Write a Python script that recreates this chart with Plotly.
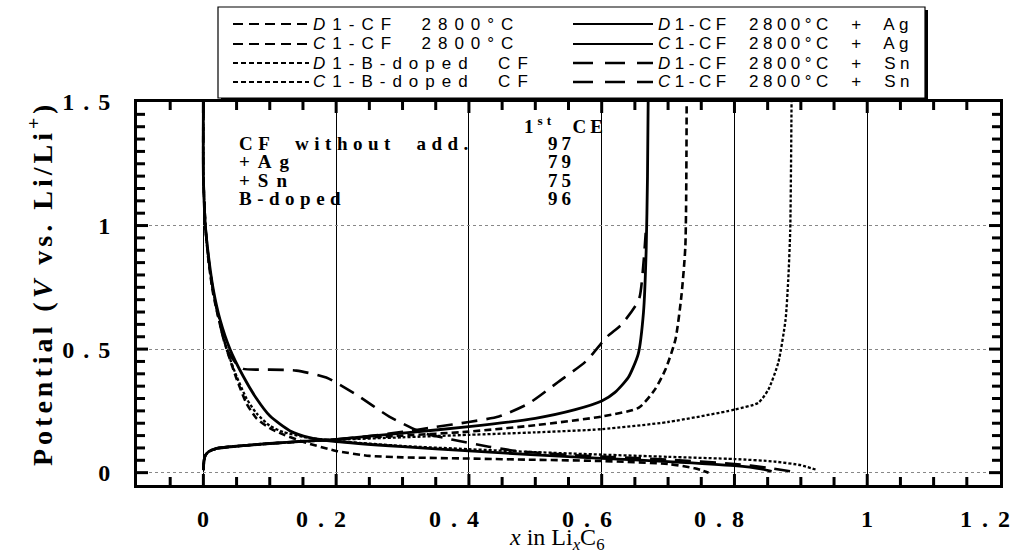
import plotly.graph_objects as go

# ---------------- data ----------------
# Discharge (D1) curves: x in LixC6, potential (V)
cf_d_x = [0, 0, 0.003, 0.008, 0.015, 0.025, 0.035, 0.05, 0.065, 0.08, 0.1, 0.12, 0.15, 0.2, 0.25, 0.3, 0.4, 0.5, 0.6, 0.7, 0.74, 0.761]
cf_d_v = [1.5, 1.2, 1.0, 0.85, 0.72, 0.6, 0.5, 0.38, 0.28, 0.22, 0.18, 0.155, 0.125, 0.088, 0.068, 0.062, 0.057, 0.052, 0.047, 0.035, 0.018, 0.0]

b_d_x = [0, 0, 0.003, 0.008, 0.015, 0.025, 0.035, 0.05, 0.065, 0.08, 0.1, 0.12, 0.15, 0.2, 0.3, 0.4, 0.5, 0.6, 0.7, 0.8, 0.86, 0.9, 0.923]
b_d_v = [1.5, 1.2, 1.0, 0.86, 0.73, 0.61, 0.5, 0.39, 0.3, 0.24, 0.19, 0.165, 0.145, 0.128, 0.108, 0.095, 0.083, 0.073, 0.064, 0.055, 0.045, 0.03, 0.012]

ag_d_x = [0, 0, 0.003, 0.008, 0.015, 0.025, 0.04, 0.06, 0.08, 0.1, 0.13, 0.16, 0.2, 0.3, 0.4, 0.5, 0.6, 0.7, 0.8, 0.84, 0.856]
ag_d_v = [1.5, 1.2, 1.0, 0.87, 0.74, 0.62, 0.5, 0.39, 0.3, 0.23, 0.17, 0.142, 0.126, 0.105, 0.088, 0.072, 0.058, 0.045, 0.028, 0.015, 0.005]

sn_d_x = [0, 0, 0.003, 0.008, 0.015, 0.025, 0.035, 0.05, 0.06, 0.1, 0.14, 0.185, 0.23, 0.28, 0.33, 0.374, 0.43, 0.47, 0.55, 0.6, 0.7, 0.8, 0.85, 0.896]
sn_d_v = [1.5, 1.2, 1.0, 0.86, 0.73, 0.6, 0.5, 0.44, 0.42, 0.417, 0.413, 0.385, 0.316, 0.227, 0.162, 0.134, 0.105, 0.088, 0.072, 0.065, 0.053, 0.035, 0.02, 0.0]

# Charge (C1) curves
cf_c_x = [0, 0.001, 0.003, 0.008, 0.02, 0.05, 0.1, 0.15, 0.2, 0.3, 0.4, 0.5, 0.6, 0.656, 0.68, 0.696, 0.711, 0.72, 0.726, 0.728]
cf_c_v = [0.01, 0.05, 0.07, 0.085, 0.098, 0.107, 0.118, 0.126, 0.134, 0.15, 0.166, 0.192, 0.227, 0.263, 0.336, 0.417, 0.538, 0.713, 0.915, 1.5]

b_c_x = [0, 0.001, 0.003, 0.008, 0.02, 0.05, 0.1, 0.15, 0.2, 0.3, 0.4, 0.5, 0.6, 0.7, 0.8, 0.836, 0.851, 0.866, 0.877, 0.881, 0.884, 0.886]
b_c_v = [0.01, 0.05, 0.07, 0.085, 0.098, 0.107, 0.118, 0.126, 0.133, 0.143, 0.153, 0.163, 0.176, 0.205, 0.255, 0.283, 0.336, 0.445, 0.62, 0.78, 0.98, 1.5]

ag_c_x = [0, 0.001, 0.003, 0.008, 0.02, 0.05, 0.1, 0.15, 0.2, 0.3, 0.4, 0.5, 0.56, 0.6, 0.62, 0.64, 0.655, 0.663, 0.667, 0.669, 0.67]
ag_c_v = [0.01, 0.05, 0.07, 0.085, 0.098, 0.107, 0.118, 0.127, 0.135, 0.16, 0.186, 0.22, 0.255, 0.29, 0.325, 0.385, 0.48, 0.65, 0.9, 1.2, 1.5]

sn_c_x = [0, 0.001, 0.003, 0.008, 0.02, 0.05, 0.1, 0.15, 0.2, 0.25, 0.3, 0.35, 0.4, 0.445, 0.49, 0.535, 0.576, 0.608, 0.63, 0.656, 0.663, 0.667]
sn_c_v = [0.01, 0.05, 0.07, 0.085, 0.098, 0.107, 0.118, 0.127, 0.135, 0.148, 0.165, 0.185, 0.205, 0.227, 0.28, 0.368, 0.45, 0.55, 0.6, 0.7, 0.85, 1.0]

# Legend labels
legend_col1 = ["<i>D</i>1-CF  2800°C", "<i>C</i>1-CF  2800°C",
               "<i>D</i>1-B-doped  CF", "<i>C</i>1-B-doped  CF"]
legend_col2 = ["<i>D</i>1-CF  2800°C  +  Ag", "<i>C</i>1-CF  2800°C  +  Ag",
               "<i>D</i>1-CF  2800°C  +  Sn", "<i>C</i>1-CF  2800°C  +  Sn"]

# Coulombic efficiency table
ce_labels = ["CF  without  add.", "+Ag", "+Sn", "B-doped"]
ce_values = [97, 79, 75, 96]

x_ticks = [0, 0.2, 0.4, 0.6, 0.8, 1, 1.2]
x_tick_text = ["0", "0.2", "0.4", "0.6", "0.8", "1", "1.2"]
y_ticks = [0, 0.5, 1, 1.5]
y_tick_text = ["0", "0.5", "1", "1.5"]
x_minor = [round(-0.1 + 0.05 * i, 2) for i in range(1, 26)]
y_minor = [round(0.05 * i, 2) for i in range(0, 30)]

# ---------------- styling ----------------
W, H = 1015, 553
ML, MR, MT, MB = 137, 15, 102, 68
PW, PH = W - ML - MR, H - MT - MB
X_RANGE = [-0.1, 1.2]
Y_RANGE = [-0.05, 1.5]

def px_x(px):
    return (px - ML) / PW

def px_y(py):
    return (H - MB - py) / PH

def sp(text, ls):
    return f'<span style="letter-spacing:{ls}px">{text}</span>'

def spaced(t, ls):
    # letter spacing between glyphs only (no trailing space after the last glyph)
    return t if len(t) == 1 else sp(t[:-1], ls) + t[-1]

STY = {
    "cf": dict(color="black", width=2.6, dash="7px,4px"),
    "b": dict(color="black", width=2.3, dash="3px,2px"),
    "ag": dict(color="black", width=2.8, dash="solid"),
    "sn": dict(color="black", width=2.6, dash="16px,9px"),
}
LEG_STY = {
    "cf": dict(color="black", width=2, dash="10px,6px"),
    "b": dict(color="black", width=2, dash="5px,3px"),
    "ag": dict(color="black", width=2, dash="solid"),
    "sn": dict(color="black", width=2.4, dash="20px,12px"),
}

fig = go.Figure()
series = [
    (cf_d_x, cf_d_v, "cf"), (cf_c_x, cf_c_v, "cf"),
    (b_d_x, b_d_v, "b"), (b_c_x, b_c_v, "b"),
    (sn_d_x, sn_d_v, "sn"), (sn_c_x, sn_c_v, "sn"),
    (ag_d_x, ag_d_v, "ag"), (ag_c_x, ag_c_v, "ag"),
]
for xs, vs, k in series:
    fig.add_trace(go.Scatter(x=xs, y=vs, mode="lines", line=dict(**STY[k], shape="spline", smoothing=0.6),
                             showlegend=False, hoverinfo="skip"))

# inside tick marks on all four sides (drawn from the tick arrays)
ux = (X_RANGE[1] - X_RANGE[0]) / PW   # data units per pixel
uy = (Y_RANGE[1] - Y_RANGE[0]) / PH
tx, ty = [], []
for v in x_minor:
    ln = 11 if v in x_ticks else 8
    tx += [v, v, None, v, v, None]
    ty += [Y_RANGE[0], Y_RANGE[0] + ln * uy, None, Y_RANGE[1], Y_RANGE[1] - ln * uy, None]
for v in y_minor:
    ln = 11 if v in y_ticks else 8
    tx += [X_RANGE[0], X_RANGE[0] + ln * ux, None, X_RANGE[1], X_RANGE[1] - ln * ux, None]
    ty += [v, v, None, v, v, None]
fig.add_trace(go.Scatter(x=tx, y=ty, mode="lines", line=dict(color="black", width=3),
                         showlegend=False, hoverinfo="skip", cliponaxis=False))

serif = "Liberation Serif"
tick_font = dict(family=serif, size=24, color="black", weight="bold")

fig.update_layout(
    width=W, height=H, margin=dict(l=ML, r=MR, t=MT, b=MB, autoexpand=False),
    paper_bgcolor="white", plot_bgcolor="white", showlegend=False,
    xaxis=dict(range=X_RANGE, tickmode="array", tickvals=x_ticks, showticklabels=False,
               ticks="", showline=True, linewidth=3, linecolor="black", mirror=True,
               showgrid=True, gridcolor="black", gridwidth=1, zeroline=False),
    yaxis=dict(range=Y_RANGE, tickmode="array", tickvals=y_ticks,
               ticktext=[spaced(t, 9) for t in y_tick_text],
               ticks="", showline=True, linewidth=3, linecolor="black", mirror=True,
               showgrid=True, gridcolor="#888", gridwidth=1, griddash="dot", zeroline=False,
               tickfont=tick_font, ticklabelstandoff=19),
)

ann = []
shapes = []

# x tick labels (decimal labels sit left of their tick as in the original)
for v, t in zip(x_ticks, x_tick_text):
    if len(t) == 1:
        ann.append(dict(x=v, y=px_y(519), xref="x", yref="paper", xanchor="center", yanchor="middle",
                        showarrow=False, text=t, font=tick_font))
    else:
        ann.append(dict(x=v, y=px_y(519), xref="x", yref="paper", xanchor="right", yanchor="middle",
                        xshift=12, showarrow=False, text=spaced(t, 10), font=tick_font))

# axis titles
ann.append(dict(x=px_x(40), y=px_y(284), xref="paper", yref="paper", textangle=-90, showarrow=False,
                xanchor="center", yanchor="middle",
                text=sp("Potential (<i>V</i> vs. Li/Li<sup>+</sup>)", 4),
                font=dict(family=serif, size=28, color="black", weight="bold")))
ann.append(dict(x=px_x(557), y=px_y(539), xref="paper", yref="paper", showarrow=False,
                xanchor="center", yanchor="middle",
                text="<i>x</i> in Li<sub><i>x</i></sub>C<sub>6</sub>",
                font=dict(family=serif, size=24, color="black")))

# CE table
tfont = dict(family=serif, size=19, color="black", weight="bold")
ann.append(dict(x=px_x(565), y=px_y(125), xref="paper", yref="paper", showarrow=False,
                xanchor="center", yanchor="middle",
                text=sp("1<sup>st</sup>  CE", 4), font=tfont))
rows_py = [143, 161, 180, 198]
for lab, val, py in zip(ce_labels, ce_values, rows_py):
    ann.append(dict(x=px_x(237), y=px_y(py), xref="paper", yref="paper", showarrow=False,
                    xanchor="left", yanchor="middle",
                    text=sp(lab, 5.5 if lab not in ("+Ag", "+Sn") else 8), font=tfont))
    ann.append(dict(x=px_x(561), y=px_y(py), xref="paper", yref="paper", showarrow=False,
                    xanchor="center", yanchor="middle",
                    text=sp(str(val), 4), font=tfont))

# legend box
shapes.append(dict(type="rect", xref="paper", yref="paper", x0=px_x(221), x1=px_x(928), y0=px_y(101), y1=px_y(10),
                   fillcolor="black", line=dict(width=0), layer="above"))
shapes.append(dict(type="rect", xref="paper", yref="paper", x0=px_x(218), x1=px_x(925), y0=px_y(98), y1=px_y(7),
                   fillcolor="white", line=dict(color="black", width=1.2), layer="above"))
leg_rows = [24, 44, 63, 82]
col1_keys = ["cf", "cf", "b", "b"]
col2_keys = ["ag", "ag", "sn", "sn"]
lfont = dict(family="Liberation Sans", size=17, color="black")
for py, lab, k in zip(leg_rows, legend_col1, col1_keys):
    shapes.append(dict(type="line", xref="paper", yref="paper", x0=px_x(233), x1=px_x(309), y0=px_y(py), y1=px_y(py),
                       line=LEG_STY[k], layer="above"))
    ann.append(dict(x=px_x(311), y=px_y(py), xref="paper", yref="paper", xanchor="left", yanchor="middle",
                    showarrow=False, text=sp(lab, 7), font=lfont))
for py, lab, k in zip(leg_rows, legend_col2, col2_keys):
    shapes.append(dict(type="line", xref="paper", yref="paper", x0=px_x(573), x1=px_x(653), y0=px_y(py), y1=px_y(py),
                       line=LEG_STY[k], layer="above"))
    ann.append(dict(x=px_x(656), y=px_y(py), xref="paper", yref="paper", xanchor="left", yanchor="middle",
                    showarrow=False, text=sp(lab, 4.5), font=lfont))

fig.update_layout(annotations=ann, shapes=shapes)
fig.write_html("out.html")
